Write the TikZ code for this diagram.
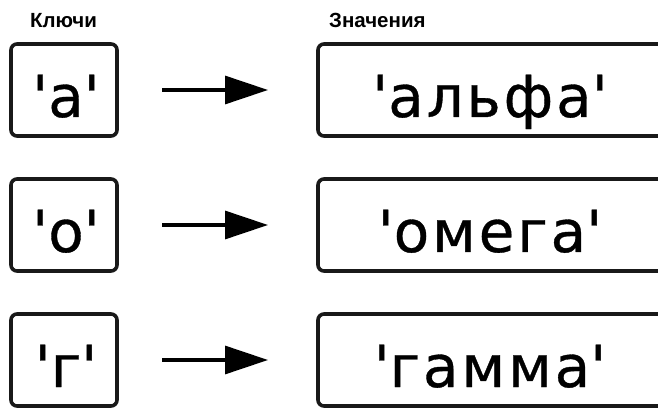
\documentclass[tikz,border=0pt]{standalone}
\usepackage{fontspec}
\setmainfont{DejaVu Sans}
\newfontfamily\bigf[LetterSpace=5,FakeBold=0.6]{DejaVu Sans}
\newfontfamily\headf{Liberation Sans}
\usetikzlibrary{arrows.meta}
\begin{document}
\begin{tikzpicture}[x=1pt,y=-1pt,
  box/.style={draw=black!90,line width=3.6pt,rounded corners=6pt},
  keytext/.style={font=\bigf\fontsize{58}{58}\selectfont,anchor=base,inner sep=0pt},
  head/.style={font=\headf\bfseries\fontsize{20.5}{20.5}\selectfont,anchor=base west,inner sep=0pt},
  conn/.style={line width=3.2pt,-{Triangle[length=43pt,width=28pt]}}]
\useasboundingbox (0,0) rectangle (658,411);
\clip (0,0) rectangle (658,411);
\node[head] (hk) at (30,28) {Ключи};
\node[head] (hv) at (329,28) {Значения};
\foreach \i/\k/\v/\yc in {1/а/альфа/90,2/о/омега/225,3/г/гамма/360}{
  \draw[box] (11,\yc-46) rectangle (117,\yc+46);
  \node[keytext] (k\i) at (66,\yc+27) {\textquotesingle\k\textquotesingle};
  \draw[box] (318,\yc-46) rectangle (700,\yc+46);
  \node[keytext] (v\i) at (490,\yc+27) {\textquotesingle\v\textquotesingle};
  \coordinate (a\i) at (162,\yc);
  \coordinate (b\i) at (268,\yc);
  \draw[conn] (a\i) -- (b\i);
}
\end{tikzpicture}
\end{document}
